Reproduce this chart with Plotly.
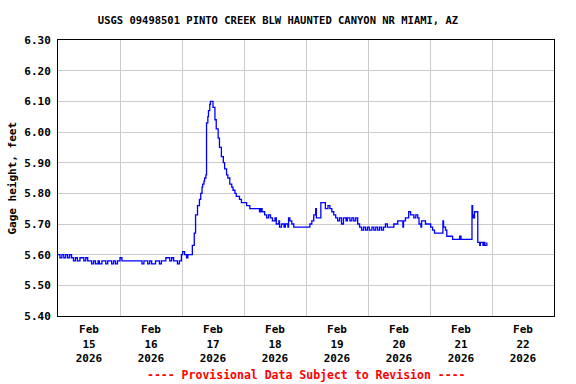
import pandas as pd
import plotly.graph_objects as go

# Hours after 2026-02-15 00:00 and gage height (feet)
hours = [0, 0.75, 1.5, 2.25, 3, 3.75, 4.5, 5.25, 6, 6.75, 7.5, 8.5, 10, 10.75, 11.5, 13, 13.75,
         14.5, 15.5, 16, 17, 18.5, 19.25, 20.75, 21.5, 22.25, 23, 24, 24.75, 31.5, 32.5, 33.25,
         34.75, 35.5, 36.25, 37.75, 39.25, 40, 41.75, 43.25, 44, 44.75, 46.25, 47, 47.75, 48.25,
         49, 49.75, 50.25, 52, 52.75, 53.25, 54, 54.75, 55.25, 55.75, 56, 56.5, 56.75, 57.25,
         57.5, 58, 58.25, 58.75, 59, 60, 60.75, 61.25, 62, 62.5, 63.25, 64, 64.5, 65.25, 65.75,
         66.5, 67.25, 67.75, 68.5, 69, 69.5, 70.25, 71, 73, 74.25, 78, 78.5, 79, 79.25, 80,
         80.75, 81.5, 82.25, 83, 84, 84.5, 85.5, 85.75, 86.5, 87.5, 88, 89, 89.25, 89.75, 90.5,
         91.25, 96.75, 97.5, 98.25, 99, 99.75, 100, 101.25, 101.75, 103.25, 103.5, 104.5,
         105.25, 106, 106.75, 107.5, 108.25, 109, 109.75, 110.5, 111.5, 112, 113, 113.75,
         114.5, 115.25, 116, 116.75, 117.5, 118.25, 119, 119.75, 120.5, 121.5, 122.25, 123,
         123.75, 124.5, 125.25, 126, 126.75, 127.5, 130, 131.5, 133.5, 133.75, 134.5, 135.75,
         136.5, 137.75, 138.5, 139.25, 139.75, 140.5, 140.75, 142.25, 144.25, 145, 145.75, 149,
         149.25, 150, 150.5, 152.75, 155.5, 156, 160, 160.25, 160.5, 160.75, 161.25, 162,
         162.5, 163.25, 163.5, 164.5, 164.75, 165.25, 166]
heights = [5.60, 5.59, 5.60, 5.59, 5.60, 5.59, 5.60, 5.59, 5.58, 5.59, 5.58, 5.59, 5.58, 5.59,
           5.58, 5.57, 5.58, 5.57, 5.58, 5.57, 5.58, 5.57, 5.58, 5.57, 5.58, 5.57, 5.58, 5.59,
           5.58, 5.58, 5.57, 5.58, 5.57, 5.58, 5.57, 5.58, 5.57, 5.58, 5.59, 5.58, 5.59, 5.58,
           5.57, 5.58, 5.60, 5.61, 5.60, 5.59, 5.60, 5.63, 5.67, 5.73, 5.76, 5.78, 5.80, 5.82,
           5.83, 5.84, 5.85, 5.86, 6.03, 6.05, 6.07, 6.09, 6.10, 6.08, 6.04, 6.01, 5.98, 5.95,
           5.92, 5.90, 5.88, 5.86, 5.85, 5.83, 5.82, 5.81, 5.80, 5.79, 5.79, 5.78, 5.77, 5.76,
           5.75, 5.74, 5.75, 5.74, 5.74, 5.73, 5.72, 5.73, 5.72, 5.71, 5.72, 5.70, 5.71, 5.69,
           5.70, 5.69, 5.70, 5.69, 5.72, 5.71, 5.70, 5.69, 5.69, 5.70, 5.71, 5.73, 5.75, 5.72,
           5.72, 5.77, 5.77, 5.75, 5.76, 5.75, 5.74, 5.73, 5.72, 5.71, 5.72, 5.70, 5.72, 5.71,
           5.72, 5.71, 5.72, 5.71, 5.72, 5.70, 5.69, 5.68, 5.69, 5.68, 5.69, 5.68, 5.69, 5.68,
           5.69, 5.68, 5.69, 5.68, 5.69, 5.70, 5.69, 5.70, 5.71, 5.69, 5.71, 5.72, 5.74, 5.73,
           5.72, 5.73, 5.72, 5.70, 5.69, 5.71, 5.70, 5.69, 5.68, 5.67, 5.71, 5.69, 5.68, 5.66,
           5.65, 5.66, 5.65, 5.65, 5.76, 5.73, 5.72, 5.74, 5.74, 5.64, 5.63, 5.64, 5.63, 5.64,
           5.63, 5.64]

tick_days = ["2026-02-15", "2026-02-16", "2026-02-17", "2026-02-18",
             "2026-02-19", "2026-02-20", "2026-02-21", "2026-02-22"]
tick_labels = ["Feb<br>15<br>2026", "Feb<br>16<br>2026", "Feb<br>17<br>2026", "Feb<br>18<br>2026",
               "Feb<br>19<br>2026", "Feb<br>20<br>2026", "Feb<br>21<br>2026", "Feb<br>22<br>2026"]
y_ticks = [5.40, 5.50, 5.60, 5.70, 5.80, 5.90, 6.00, 6.10, 6.20, 6.30]

base = pd.Timestamp("2026-02-15 00:00")
times = [base + pd.Timedelta(hours=h) for h in hours]
tick_pos = [pd.Timestamp(d) + pd.Timedelta(hours=12) for d in tick_days]

FONT = "DejaVu Sans Mono"

fig = go.Figure()
fig.add_trace(go.Scatter(x=times, y=heights, mode="lines",
                         line=dict(color="#0000ff", width=1.3, shape="hv"),
                         hoverinfo="skip", showlegend=False))

fig.update_layout(
    width=576, height=384,
    margin=dict(l=58, r=22, t=40, b=68),
    paper_bgcolor="white", plot_bgcolor="white",
    title=dict(text="USGS 09498501 PINTO CREEK BLW HAUNTED CANYON NR MIAMI, AZ",
               xref="container", yref="container", x=0.4826, y=1 - 20 / 384,
               xanchor="center", yanchor="middle",
               font=dict(family=FONT, size=10.5, color="black", weight="bold")),
    xaxis=dict(range=[pd.Timestamp("2026-02-15"), pd.Timestamp("2026-02-23")],
               tickmode="array", tickvals=tick_pos, ticktext=tick_labels,
               showgrid=False, ticks="", zeroline=False, ticklabelstandoff=3,
               showline=True, linecolor="black", linewidth=1, mirror=True,
               tickfont=dict(family=FONT, size=11, color="black", weight="bold"),
               minor=dict(tickmode="linear", tick0="2026-02-15", dtick=86400000,
                          showgrid=True, gridcolor="#cccccc", gridwidth=1, ticks="")),
    yaxis=dict(range=[5.40, 6.30], tickmode="array", tickvals=y_ticks,
               ticktext=[f"{v:.2f}" for v in y_ticks],
               showgrid=True, gridcolor="#cccccc", gridwidth=1, zeroline=False,
               ticks="outside", ticklen=4, tickcolor="white",
               showline=True, linecolor="black", linewidth=1, mirror=True,
               tickfont=dict(family=FONT, size=11, color="black", weight="bold")),
    annotations=[
        dict(text="Gage height, feet", xref="paper", yref="paper",
             x=(11.5 - 58) / 496, y=0.5, xanchor="center", yanchor="middle",
             textangle=-90, showarrow=False,
             font=dict(family=FONT, size=11, color="black", weight="bold")),
        dict(text="---- Provisional Data Subject to Revision ----", xref="paper", yref="paper",
             x=0.5, y=(316 - 375) / 276, xanchor="center", yanchor="middle",
             showarrow=False,
             font=dict(family=FONT, size=11.5, color="red", weight="bold")),
    ],
)

fig.write_html("out.html")
